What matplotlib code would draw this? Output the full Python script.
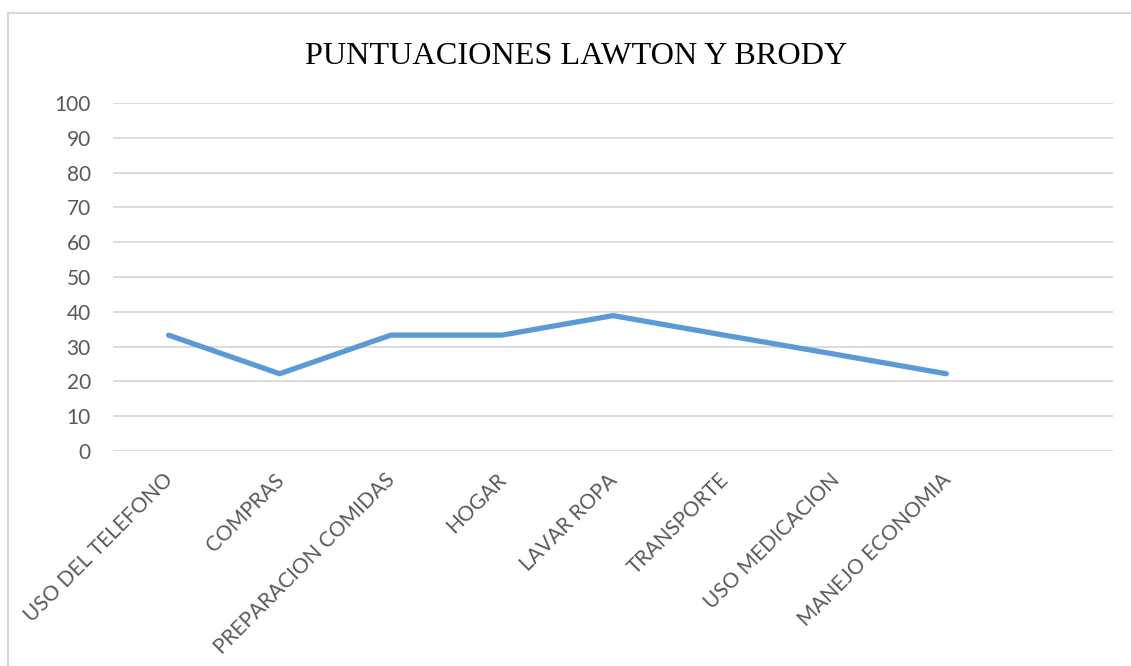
import matplotlib
matplotlib.use("Agg")
import matplotlib.pyplot as plt
from matplotlib.lines import Line2D
from matplotlib.transforms import ScaledTranslation

categories = ["USO DEL TELEFONO", "COMPRAS", "PREPARACION COMIDAS", "HOGAR",
              "LAVAR ROPA", "TRANSPORTE", "USO MEDICACION", "MANEJO ECONOMIA"]
values = [33.3, 22.2, 33.3, 33.3, 38.9, 33.3, 27.8, 22.2]
yticks = list(range(0, 101, 10))
title = "PUNTUACIONES LAWTON Y BRODY"

W, H = 1131, 666
fig = plt.figure(figsize=(W / 100, H / 100), dpi=100)
ax = fig.add_axes([113 / W, 1 - 451 / H, 1000 / W, 348 / H])

x = list(range(len(categories)))
ax.plot(x, values, color="#5B9BD5", lw=3.8, solid_capstyle="round", solid_joinstyle="round", zorder=3)

ax.set_xlim(-0.5, len(categories) + 0.5)
ax.set_ylim(0, 100)
ax.set_yticks(yticks)
ax.set_xticks(x)
ax.set_xticklabels([])
off = ScaledTranslation(-6 / 100, -19 / 100, fig.dpi_scale_trans)
for xi, name in zip(x, categories):
    ax.text(xi, 0, name, transform=ax.get_xaxis_transform() + off,
            rotation=45, ha="right", va="top", rotation_mode="anchor",
            fontfamily="Lato", fontsize=15, color="#595959")
for lab in ax.get_yticklabels():
    lab.set_fontfamily("Lato")
    lab.set_fontsize(15)
    lab.set_color("#595959")
ax.tick_params(axis="both", length=0)
ax.tick_params(axis="y", pad=16)
ax.grid(axis="y", color="#D9D9D9", lw=1.3, zorder=0)
for s in ax.spines.values():
    s.set_visible(False)

fig.text(576 / W, 1 - 57 / H, title, ha="center", va="center",
         fontfamily="Liberation Serif", fontsize=23.2, color="black")

fig.add_artist(Line2D([8 / W, 8 / W], [0, 1 - 13 / H], transform=fig.transFigure, color="#D9D9D9", lw=1.5))
fig.add_artist(Line2D([8 / W, 1], [1 - 13 / H, 1 - 13 / H], transform=fig.transFigure, color="#D9D9D9", lw=1.5))

fig.savefig("out.png", dpi=100)
